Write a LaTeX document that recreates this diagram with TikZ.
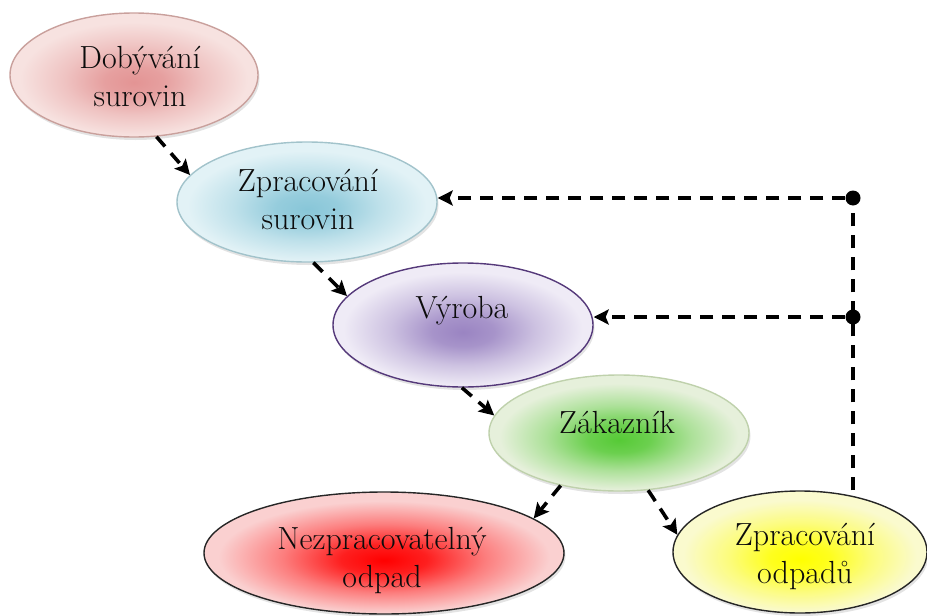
\documentclass[tikz,border=0pt]{standalone}
\usetikzlibrary{arrows.meta,shapes.geometric,shadows}

% fill colours: core and rim of each stage
\definecolor{dobIn}{HTML}{E39494}\definecolor{dobOut}{HTML}{F7E2E0}\definecolor{dobLine}{HTML}{C9A09C}
\definecolor{zpsIn}{HTML}{88C6D8}\definecolor{zpsOut}{HTML}{E2F2F6}\definecolor{zpsLine}{HTML}{A2C3CB}
\definecolor{vyrIn}{HTML}{9A84C2}\definecolor{vyrOut}{HTML}{EFEBF6}\definecolor{vyrLine}{HTML}{55397A}
\definecolor{zakIn}{HTML}{56CA36}\definecolor{zakOut}{HTML}{E6F0DB}\definecolor{zakLine}{HTML}{BFD1AC}
\definecolor{nezIn}{HTML}{FF0000}\definecolor{nezOut}{HTML}{FAD0D0}\definecolor{nezLine}{HTML}{262626}
\definecolor{odpIn}{HTML}{FFFF00}\definecolor{odpOut}{HTML}{FAFACE}\definecolor{odpLine}{HTML}{262626}
\definecolor{labelInk}{HTML}{0C0C0C}

% soft radial glow, centred a little below the middle of the shape
\newcommand{\makeglow}[3]{%
  \pgfdeclareradialshading{#1}{\pgfpoint{0bp}{-3bp}}{%
    color(0bp)=(#2); color(6bp)=(#2!85!#3); color(14bp)=(#2!40!#3);
    color(23bp)=(#3); color(50bp)=(#3)}}
\makeglow{dobGlow}{dobIn}{dobOut}
\makeglow{zpsGlow}{zpsIn}{zpsOut}
\makeglow{vyrGlow}{vyrIn}{vyrOut}
\makeglow{zakGlow}{zakIn}{zakOut}
\makeglow{nezGlow}{nezIn}{nezOut}
\makeglow{odpGlow}{odpIn}{odpOut}

\tikzset{
  stage/.style n args={4}{ellipse, inner sep=0pt, minimum width=#1, minimum height=#2,
    shading=#3, draw=#4, line width=1.4pt,
    drop shadow={opacity=0.22, shadow xshift=1.5pt, shadow yshift=-3pt}},
  caption/.style={font=\fontsize{32}{38}\selectfont, align=center, text=labelInk, inner sep=0pt},
  dline/.style={line width=3.6pt, dash pattern=on 13pt off 9pt},
  dflow/.style={dline, -{Stealth[length=15pt,width=15pt,inset=3pt]}},
  junction/.style={circle, fill=black, inner sep=0pt, minimum size=15pt}
}

\begin{document}
\begin{tikzpicture}[x=1pt, y=-1pt]
  \useasboundingbox (0,0) rectangle (927,616);

  % stages
  \node[stage={248pt}{124pt}{dobGlow}{dobLine}] (dob) at (134,75) {};
  \node[stage={260pt}{120pt}{zpsGlow}{zpsLine}] (zps) at (307,202) {};
  \node[stage={260pt}{124pt}{vyrGlow}{vyrLine}] (vyr) at (463,325) {};
  \node[stage={260pt}{116pt}{zakGlow}{zakLine}] (zak) at (619,433) {};
  \node[stage={360pt}{122pt}{nezGlow}{nezLine}] (nez) at (384,553) {};
  \node[stage={254pt}{122pt}{odpGlow}{odpLine}] (odp) at (800,552) {};

  % captions
  \node[caption] (tdob) at (140,76) {Dobývání\\surovin};
  \node[caption] (tzps) at (308,199) {Zpracování\\surovin};
  \node[caption] (tvyr) at (462,311) {Výroba};
  \node[caption] (tzak) at (617,422) {Zákazník};
  \node[caption] (tnez) at (382,560) {Nezpracovatelný\\odpad};
  \node[caption] (todp) at (805,556) {Zpracování\\odpadů};

  % main flow
  \draw[dflow] (dob.-70) -- (zps.167);
  \draw[dflow] (zps.-84) -- (vyr.166);
  \draw[dflow] (vyr.-91) -- (zak.172);
  \draw[dflow] (zak.-138) -- (nez.13);
  \draw[dflow] (zak.-63) -- (odp.172);

  % feedback from waste processing
  \node[junction] (j1) at (853,198) {};
  \node[junction] (j2) at (853,317) {};
  \draw[dline] (odp.north -| j1) -- (j1);
  \draw[dflow] (j1) -- (j1 -| zps.east);
  \draw[dflow] (j2) -- (j2 -| vyr.east);
\end{tikzpicture}
\end{document}
